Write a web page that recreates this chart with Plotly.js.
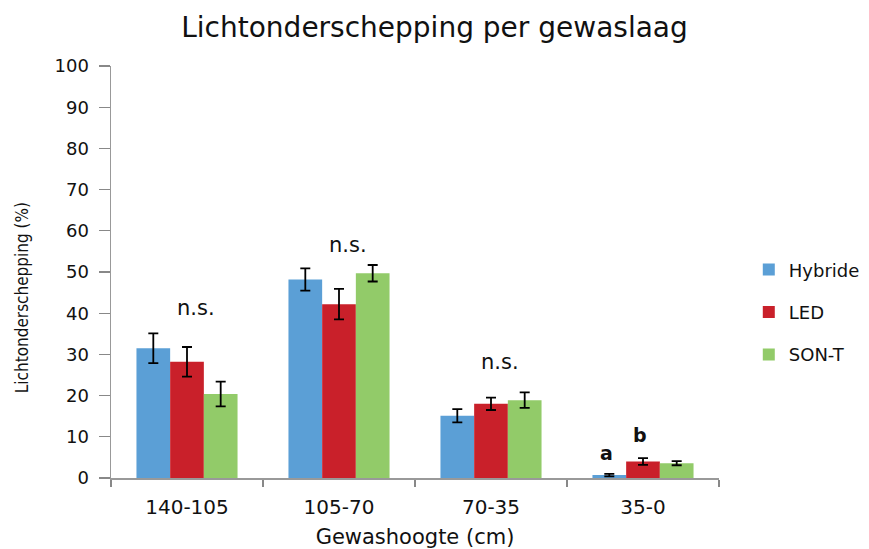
<!DOCTYPE html>
<html>
<head>
<meta charset="utf-8">
<script src="https://cdn.plot.ly/plotly-3.0.1.min.js"></script>
<style>html,body{margin:0;padding:0;background:#fff;}</style>
</head>
<body>
<div id="chart" style="width:869px;height:549px;"></div>
<script>
const categories = ["140-105", "105-70", "70-35", "35-0"];
const seriesNames = ["Hybride", "LED", "SON-T"];
const hybride = [31.5, 48.2, 15.1, 0.7];
const hybrideErr = [3.6, 2.7, 1.6, 0.3];
const led = [28.2, 42.2, 18.0, 4.0];
const ledErr = [3.6, 3.7, 1.5, 0.8];
const sont = [20.4, 49.7, 18.9, 3.6];
const sontErr = [3.0, 2.0, 1.9, 0.5];
const yTicks = [0, 10, 20, 30, 40, 50, 60, 70, 80, 90, 100];
const sigLabels = ["n.s.", "n.s.", "n.s."];
const sigY = [41.3, 56.6, 28.2];
const letterLabels = ["a", "b"];
const letterY = [6.1, 10.4];

const colors = ["#5B9FD6", "#C9202A", "#92CB69"];
const values = [hybride, led, sont];
const errs = [hybrideErr, ledErr, sontErr];

const traces = seriesNames.map((name, i) => ({
  type: "bar",
  name: name,
  x: categories,
  y: values[i],
  legendgroup: name,
  marker: {color: colors[i], line: {width: 0}},
  error_y: {type: "data", array: errs[i], visible: true, color: "#000", thickness: 1.8, width: 5}
}));

const annotations = [];
sigLabels.forEach((t, i) => {
  annotations.push({x: i + 0.06, y: sigY[i], xref: "x", yref: "y", text: t, showarrow: false,
    font: {family: "DejaVu Sans", size: 21, color: "#111"}, yanchor: "middle"});
});
const offsets = [-0.24, -0.02];
letterLabels.forEach((t, i) => {
  annotations.push({x: 3 + offsets[i], y: letterY[i], xref: "x", yref: "y", text: "<b>" + t + "</b>", showarrow: false,
    font: {family: "DejaVu Sans", size: 19, color: "#111"}, yanchor: "middle"});
});
annotations.push({x: -0.146, y: 0.437, xref: "paper", yref: "paper", text: "Lichtonderschepping (%)",
  textangle: -90, showarrow: false, xanchor: "center", yanchor: "middle",
  font: {family: "Liberation Sans Narrow, DejaVu Sans Condensed, sans-serif", size: 17, color: "#111"}});

const layout = {
  width: 869, height: 549,
  margin: {l: 111, r: 150, t: 66, b: 71, autoexpand: false},
  paper_bgcolor: "#fff", plot_bgcolor: "#fff",
  font: {family: "DejaVu Sans", color: "#111"},
  title: {text: "Lichtonderschepping per gewaslaag", x: 0.5, xanchor: "center", y: 0.95, yanchor: "middle",
    font: {family: "DejaVu Sans", size: 28, color: "#111"}},
  barmode: "group", bargap: 0.335, bargroupgap: 0,
  xaxis: {
    type: "category", tickson: "boundaries", ticks: "outside", ticklen: 7, tickcolor: "#888", tickwidth: 1.3,
    showline: true, linecolor: "#999", linewidth: 1.5, showgrid: false, zeroline: false,
    tickfont: {family: "DejaVu Sans", size: 20, color: "#111"}, ticklabelstandoff: 10,
    title: {text: "Gewashoogte (cm)", font: {family: "DejaVu Sans", size: 21, color: "#111"}, standoff: 12},
    automargin: false
  },
  yaxis: {
    range: [0, 100], tickvals: yTicks, ticks: "outside", ticklen: 11, tickcolor: "#888", tickwidth: 1.3,
    showline: true, linecolor: "#999", linewidth: 1.5, showgrid: false, zeroline: false,
    tickfont: {family: "DejaVu Sans", size: 18, color: "#111"}, ticklabelstandoff: 6,
    automargin: false
  },
  legend: {x: 1.049, xanchor: "left", y: 0.55, yanchor: "top", traceorder: "grouped", tracegroupgap: 16,
    font: {family: "DejaVu Sans", size: 18, color: "#111"}, bgcolor: "rgba(0,0,0,0)"},
  annotations: annotations,
  showlegend: true
};

Plotly.newPlot("chart", traces, layout, {displayModeBar: false, staticPlot: true});
</script>
</body>
</html>
